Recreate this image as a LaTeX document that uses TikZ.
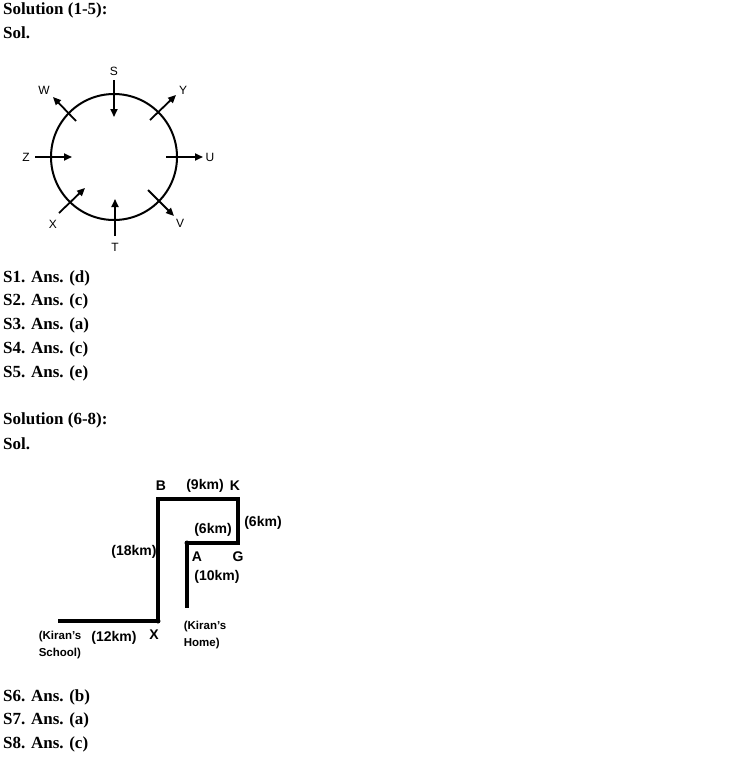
\documentclass[tikz,border=0pt]{standalone}
\usepackage{fontspec}
\setmainfont{Liberation Serif}
\setsansfont{Liberation Sans}
\usetikzlibrary{arrows.meta}
\begin{document}
\begin{tikzpicture}[x=1pt,y=-1pt]
		\tikzstyle{Head} = [anchor=west, font=\fontsize{17}{19}\selectfont\bfseries, inner sep=0pt]
		\tikzstyle{Dir} = [font=\fontsize{12}{14}\sffamily, inner sep=0pt]
		\tikzstyle{Km} = [font=\fontsize{14}{16}\sffamily\bfseries, inner sep=0pt]
		\tikzstyle{Note} = [font=\fontsize{11.5}{17}\sffamily\bfseries, inner sep=0pt, align=left]
		\tikzstyle{arrow} = [line width=1.8pt,-{Triangle[length=8pt,width=7pt]}]
		\tikzstyle{road} = [line width=3.5pt]
		\useasboundingbox (0,0) rectangle (729,760);
		
		% headings and answers
		\node[Head] (h1) at (3,10) {Solution (1-5):};
		\node[Head] (s1) at (3,33) {Sol.};
		\node[Head] (a1) at (3,278) {S1. Ans. (d)};
		\node[Head] (a2) at (3,301) {S2. Ans. (c)};
		\node[Head] (a3) at (3,325) {S3. Ans. (a)};
		\node[Head] (a4) at (3,349) {S4. Ans. (c)};
		\node[Head] (a5) at (3,373) {S5. Ans. (e)};
		\node[Head] (h2) at (3,420) {Solution (6-8):};
		\node[Head] (s2) at (3,444) {Sol.};
		\node[Head] (a6) at (3,697) {S6. Ans. (b)};
		\node[Head] (a7) at (3,720) {S7. Ans. (a)};
		\node[Head] (a8) at (3,744) {S8. Ans. (c)};
		
		% circle of people
		\draw [line width=2pt] (114,157) circle (63);
		\coordinate (S0) at (114,80);   \coordinate (S1) at (114,117);
		\coordinate (T0) at (115,236);  \coordinate (T1) at (115,199);
		\coordinate (Z0) at (35,157);   \coordinate (Z1) at (72,157);
		\coordinate (U0) at (166,157);  \coordinate (U1) at (203,157);
		\coordinate (W0) at (76,121);   \coordinate (W1) at (53,97);
		\coordinate (Y0) at (150,120);  \coordinate (Y1) at (176,95);
		\coordinate (X0) at (59,213);   \coordinate (X1) at (85,188);
		\coordinate (V0) at (148,190);  \coordinate (V1) at (174,216);
		\foreach \p in {S,T,Z,U,W,Y,X,V}
			\draw [arrow] (\p0) -- (\p1);
		\node[Dir] (S) at (114,71) {S};
		\node[Dir] (T) at (115,247) {T};
		\node[Dir] (Z) at (26,157) {Z};
		\node[Dir] (U) at (210,157) {U};
		\node[Dir] (W) at (44,90) {W};
		\node[Dir] (Y) at (183,90) {Y};
		\node[Dir] (X) at (53,224) {X};
		\node[Dir] (V) at (180,223) {V};
		
		% route map
		\coordinate (school) at (58,621);
		\coordinate (x) at (158,621);
		\coordinate (b) at (158,499);
		\coordinate (k) at (238,499);
		\coordinate (g) at (238,543);
		\coordinate (a) at (187,543);
		\coordinate (home) at (187,608);
		\draw [road, line join=miter] (school) -- (x) -- (b) -- (k) -- (g) -- (a) -- (home);
		\fill (x) circle (2.5);
		\fill (a) circle (2.5);
		\node[Km] (bl) at (161,486) {B};
		\node[Km] (bk) at (205,486) {(9km)};
		\node[Km] (kl) at (235,486) {K};
		\node[Km] (kg) at (263,523) {(6km)};
		\node[Km] (ga) at (213,530) {(6km)};
		\node[Km] (xb) at (134,552) {(18km)};
		\node[Km] (al) at (197,557) {A};
		\node[Km] (gl) at (238,557) {G};
		\node[Km] (ah) at (217,577) {(10km)};
		\node[Note] (hm) at (205,635) {(Kiran's\\Home)};
		\node[Note] (sc) at (60,645) {(Kiran's\\School)};
		\node[Km] (sx) at (114,638) {(12km)};
		\node[Km] (xl) at (154,635) {X};
		\end{tikzpicture}
\end{document}
